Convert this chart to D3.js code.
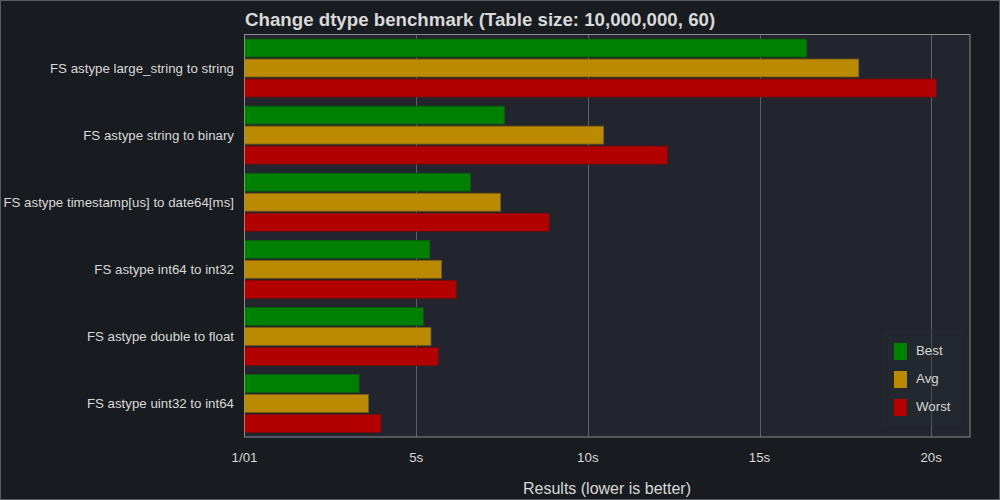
<!DOCTYPE html>
<html>
<head>
<meta charset="utf-8">
<script src="https://cdn.jsdelivr.net/npm/d3@7"></script>
<style>
  body { margin: 0; background: #181b1f; }
  svg { display: block; font-family: "Liberation Sans", Arial, sans-serif; }
</style>
</head>
<body>
<div id="chart"></div>
<script>
var categories = [
  "FS astype large_string to string",
  "FS astype string to binary",
  "FS astype timestamp[us] to date64[ms]",
  "FS astype int64 to int32",
  "FS astype double to float",
  "FS astype uint32 to int64"
];
var seriesNames = ["Best", "Avg", "Worst"];
var best  = [16.38, 7.58, 6.59, 5.40, 5.21, 3.34];
var avg   = [17.89, 10.46, 7.46, 5.74, 5.43, 3.61];
var worst = [20.15, 12.33, 8.88, 6.18, 5.65, 3.98];
var tickValues = [0, 5, 10, 15, 20];
var tickLabels = ["1/01", "5s", "10s", "15s", "20s"];

var colors = ["#008000", "#bb8a00", "#b20000"];
var strokes = ["#0a5a0a", "#7a5e10", "#7a0a0a"];

var width = 1000, height = 500;
var margin = {left: 244.5, right: 30, top: 34.5, bottom: 63};

var svg = d3.select("#chart").append("svg")
    .attr("width", width)
    .attr("height", height);

svg.append("rect")
    .attr("x", 0.5).attr("y", 0.5)
    .attr("width", width - 1).attr("height", height - 1)
    .attr("fill", "#181b1f")
    .attr("stroke", "#5a5d62");

var x = d3.scaleLinear().domain([0, 21.13]).range([margin.left, width - margin.right]);
var y0 = d3.scaleBand().domain(categories)
    .range([margin.top, height - margin.bottom])
    .paddingInner(0.137).paddingOuter(0.068);
var y1 = d3.scaleBand().domain(seriesNames).range([0, y0.bandwidth()]).paddingInner(0.105);

// plot background
svg.append("rect")
    .attr("x", margin.left).attr("y", margin.top)
    .attr("width", x.range()[1] - margin.left)
    .attr("height", height - margin.bottom - margin.top)
    .attr("fill", "#22252d");

// grid
svg.append("g").selectAll("line")
  .data(tickValues.slice(1))
  .enter().append("line")
    .attr("x1", function(d) { return Math.round(x(d)) + 0.5; })
    .attr("x2", function(d) { return Math.round(x(d)) + 0.5; })
    .attr("y1", margin.top).attr("y2", height - margin.bottom)
    .attr("stroke", "#5c5f66").attr("stroke-width", 1);

var data = categories.map(function(c, i) {
  return {cat: c, vals: [best[i], avg[i], worst[i]]};
});

var groups = svg.append("g").selectAll("g")
  .data(data)
  .enter().append("g")
    .attr("transform", function(d) { return "translate(0," + y0(d.cat) + ")"; });

groups.selectAll("rect")
  .data(function(d) { return d.vals.map(function(v, j) { return {s: seriesNames[j], v: v, j: j}; }); })
  .enter().append("rect")
    .attr("x", x(0))
    .attr("y", function(d) { return y1(d.s); })
    .attr("width", function(d) { return x(d.v) - x(0); })
    .attr("height", y1.bandwidth())
    .attr("fill", function(d) { return colors[d.j]; })
    .attr("stroke", function(d) { return strokes[d.j]; })
    .attr("stroke-width", 0.8);

// plot border
svg.append("rect")
    .attr("x", margin.left).attr("y", margin.top)
    .attr("width", x.range()[1] - margin.left)
    .attr("height", height - margin.bottom - margin.top)
    .attr("fill", "none")
    .attr("stroke", "#8a8d92");

// category labels
svg.append("g").selectAll("text")
  .data(categories)
  .enter().append("text")
    .attr("x", 234)
    .attr("y", function(d) { return y0(d) + y0.bandwidth() / 2; })
    .attr("dy", "0.35em")
    .attr("text-anchor", "end")
    .attr("fill", "#d8d9da")
    .style("font-size", "13.3px")
    .text(function(d) { return d; });

// x tick labels
svg.append("g").selectAll("text")
  .data(tickValues)
  .enter().append("text")
    .attr("x", function(d) { return x(d); })
    .attr("y", 462)
    .attr("text-anchor", "middle")
    .attr("fill", "#d8d9da")
    .style("font-size", "13.3px")
    .text(function(d, i) { return tickLabels[i]; });

svg.append("text")
    .attr("x", 607).attr("y", 494)
    .attr("text-anchor", "middle")
    .attr("fill", "#d8d9da")
    .style("font-size", "16px")
    .text("Results (lower is better)");

svg.append("text")
    .attr("x", 245).attr("y", 26)
    .attr("fill", "#d8d9da")
    .style("font-size", "18.7px")
    .style("font-weight", "bold")
    .text("Change dtype benchmark (Table size: 10,000,000, 60)");

// legend
var legend = svg.append("g");
legend.append("rect")
    .attr("x", 883).attr("y", 330)
    .attr("width", 80).attr("height", 96)
    .attr("fill", "#262a31").attr("opacity", 0.35);
var items = legend.selectAll("g.item")
  .data(seriesNames)
  .enter().append("g").attr("class", "item")
    .attr("transform", function(d, i) { return "translate(894," + (343 + i * 28) + ")"; });
items.append("rect")
    .attr("width", 13).attr("height", 17)
    .attr("fill", function(d, i) { return colors[i]; });
items.append("text")
    .attr("x", 22).attr("y", 12)
    .attr("fill", "#d8d9da")
    .style("font-size", "13.3px")
    .text(function(d) { return d; });
</script>
</body>
</html>
